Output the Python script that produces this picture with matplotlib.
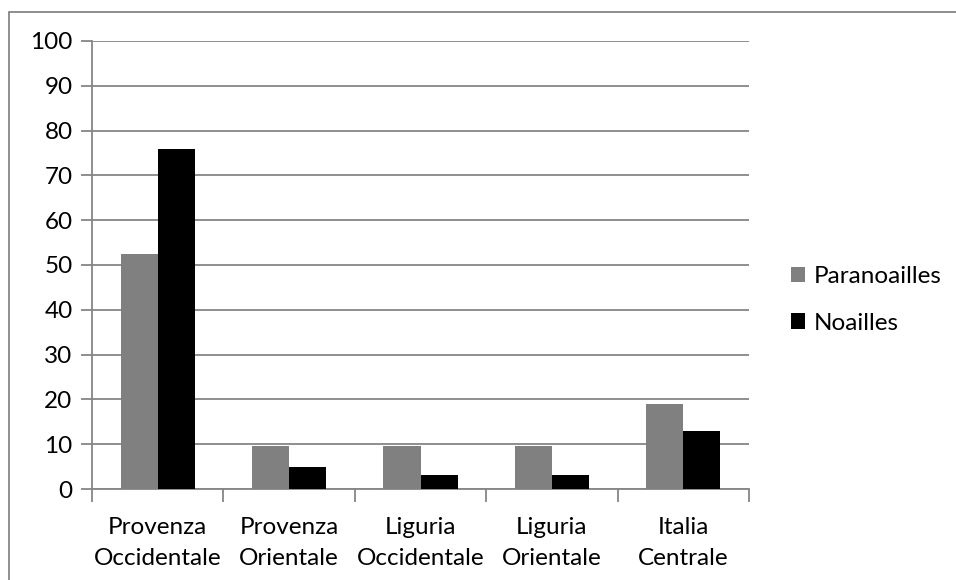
import matplotlib
matplotlib.use("Agg")
import matplotlib.pyplot as plt
import numpy as np
from matplotlib.patches import Rectangle

categories = ["Provenza\nOccidentale", "Provenza\nOrientale", "Liguria\nOccidentale",
              "Liguria\nOrientale", "Italia\nCentrale"]
paranoailles = [52.4, 9.5, 9.5, 9.5, 19.0]
noailles = [75.8, 4.8, 3.2, 3.2, 12.9]
yticks = list(range(0, 101, 10))

plt.rcParams["font.family"] = ["Lato", "DejaVu Sans"]
GRID = "#868686"
FS = 17.5

fig = plt.figure(figsize=(9.56, 5.8), dpi=100)
ax = fig.add_axes([92 / 956, 1 - 489 / 580, (749 - 92) / 956, (489 - 41) / 580])

x = np.arange(len(categories))
w = 0.283
ax.bar(x - w / 2, paranoailles, w, color="#808080", label="Paranoailles", zorder=3)
ax.bar(x + w / 2, noailles, w, color="#000000", label="Noailles", zorder=3)

ax.set_xlim(-0.5, len(categories) - 0.5)
ax.set_ylim(0, 100)
ax.set_yticks(yticks)
ax.yaxis.grid(True, color=GRID, lw=1.3, zorder=0)
ax.set_axisbelow(True)

ax.set_xticks(x)
ax.set_xticklabels(categories, fontsize=FS, linespacing=1.6)
ax.tick_params(axis="x", length=0, pad=20)
ax.set_xticks(np.arange(-0.5, len(categories)), minor=True)
ax.tick_params(axis="x", which="minor", length=9, color=GRID, width=1.3)
ax.tick_params(axis="y", length=8, color=GRID, width=1.3, labelsize=FS, pad=6)

for s in ["top", "right"]:
    ax.spines[s].set_visible(False)
for s in ["left", "bottom"]:
    ax.spines[s].set_color(GRID)
    ax.spines[s].set_linewidth(1.3)

fig.legend(loc="center left", bbox_to_anchor=(769 / 956, 1 - 300 / 580), frameon=False,
           fontsize=FS, handlelength=0.6, handleheight=0.6, handletextpad=0.35,
           labelspacing=1.05)

fig.patches.append(Rectangle((9 / 956, -0.1), 1.2, 1.1 - 12 / 580, transform=fig.transFigure,
                             fill=False, edgecolor=GRID, lw=1.3))

fig.savefig("out.png", dpi=100)
